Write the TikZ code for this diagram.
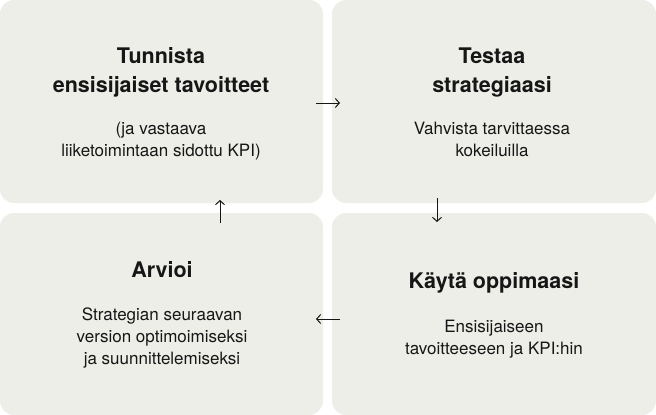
\documentclass[tikz,border=0pt]{standalone}
\usepackage{fontspec}
\setmainfont{TeX Gyre Heros}
\usepackage{tikz}
\usetikzlibrary{arrows.meta}
\definecolor{cardfill}{RGB}{238,238,233}
\definecolor{ink}{RGB}{22,22,22}
\tikzset{
    card/.style = {fill=cardfill, rounded corners=14pt, inner sep=0pt, outer sep=0pt},
    title/.style = {align=center, inner sep=0pt, text=ink,
        font=\fontsize{21.5}{29}\selectfont\bfseries},
    body/.style = {align=center, inner sep=0pt, text=ink,
        font=\fontsize{17}{22}\selectfont},
    flow/.style = {-{Straight Barb[length=4pt,width=9pt]}, line width=1pt, draw=ink}
}

\begin{document}
\begin{tikzpicture}[x=1pt, y=-1pt]
\useasboundingbox (0,0) rectangle (656,415);

%boxes
\node [card, minimum width=323pt, minimum height=203pt] (tunnista) at (161.5, 101.5) {};
\node [card, minimum width=324pt, minimum height=203pt] (testaa) at (494, 101.5) {};
\node [card, minimum width=323pt, minimum height=202pt] (arvioi) at (161.5, 314) {};
\node [card, minimum width=324pt, minimum height=202pt] (kayta) at (494, 314) {};

%texts
\node [title] (tunnista-t) at (161, 72) {Tunnista\\ensisijaiset tavoitteet};
\node [body] (tunnista-b) at (161, 141.5) {(ja vastaava\\liiketoimintaan sidottu KPI)};

\node [title] (testaa-t) at (492, 72.5) {Testaa\\strategiaasi};
\node [body] (testaa-b) at (492, 139) {Vahvista tarvittaessa\\kokeiluilla};

\node [title] (arvioi-t) at (162, 270) {Arvioi};
\node [body] (arvioi-b) at (162, 338) {Strategian seuraavan\\version optimoimiseksi\\ja suunnittelemiseksi};

\node [title] (kayta-t) at (494, 283) {Käytä oppimaasi};
\node [body] (kayta-b) at (494, 339) {Ensisijaiseen\\tavoitteeseen ja KPI:hin};

%arrows
\coordinate (r0) at (316, 103);
\coordinate (r1) at (340, 103);
\coordinate (d0) at (437, 198);
\coordinate (d1) at (437, 222);
\coordinate (l0) at (340, 319);
\coordinate (l1) at (316, 319);
\coordinate (u0) at (220, 223);
\coordinate (u1) at (220, 200);

\draw [flow] (r0) -- (r1);
\draw [flow] (d0) -- (d1);
\draw [flow] (l0) -- (l1);
\draw [flow] (u0) -- (u1);
\end{tikzpicture}
\end{document}
